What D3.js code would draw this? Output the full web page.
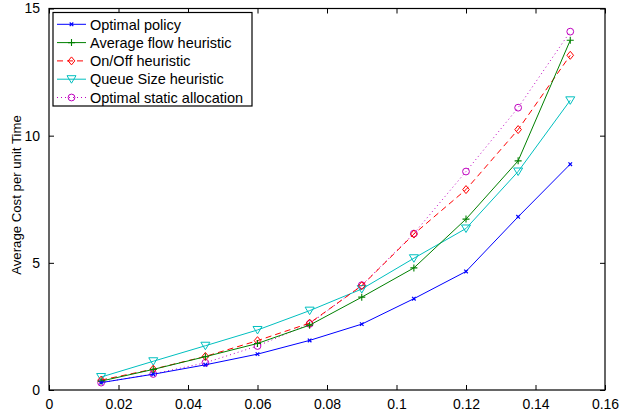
<!DOCTYPE html>
<html><head><meta charset="utf-8">
<script src="https://cdn.jsdelivr.net/npm/d3@7"></script>
<style>body{margin:0;background:#fff}svg{display:block}text{font-family:"Liberation Sans",Arial,sans-serif}</style>
</head><body><svg id="c" width="620" height="412"></svg>
<script>
const xValues = [0.015,0.03,0.045,0.06,0.075,0.09,0.105,0.12,0.135,0.15];
const optimalPolicy = [0.29,0.62,0.99,1.41,1.95,2.59,3.59,4.66,6.81,8.88];
const averageFlow = [0.35,0.81,1.31,1.83,2.55,3.65,4.80,6.72,9.01,13.75];
const onOff = [0.39,0.82,1.32,1.94,2.63,4.10,6.13,7.88,10.24,13.16];
const queueSize = [0.51,1.13,1.74,2.36,3.12,3.97,5.18,6.35,8.59,11.39];
const optimalStatic = [0.29,0.63,1.07,1.73,2.60,4.12,6.15,8.59,11.10,14.09];
const seriesNames = ["Optimal policy","Average flow heuristic","On/Off heuristic","Queue Size heuristic","Optimal static allocation"];
const xTicks = [0,0.02,0.04,0.06,0.08,0.1,0.12,0.14,0.16];
const yTicks = [0,5,10,15];
const yLabel = "Average Cost per unit Time";

const series = [
  {name:seriesNames[0], values:optimalPolicy, color:"#0000ff", dash:null, marker:"x"},
  {name:seriesNames[1], values:averageFlow, color:"#008000", dash:null, marker:"plus"},
  {name:seriesNames[2], values:onOff, color:"#ff0000", dash:"6,4", marker:"diamond"},
  {name:seriesNames[3], values:queueSize, color:"#00bfbf", dash:null, marker:"tri"},
  {name:seriesNames[4], values:optimalStatic, color:"#bf00bf", dash:"1,3", marker:"circle"}
];

const L=49, R=605, T=8.5, B=390;
const svg = d3.select("#c");
const x = d3.scaleLinear().domain([0,0.16]).range([L,R]);
const y = d3.scaleLinear().domain([0,15]).range([B,T]);
const fs = 14;

const fmt = d => d===0 ? "0" : String(+d.toFixed(2));
// axes
const gx = svg.append("g").attr("transform",`translate(0,${B})`)
  .call(d3.axisBottom(x).tickValues(xTicks).tickFormat(fmt).tickSizeInner(-5).tickSizeOuter(0).tickPadding(9));
const gxt = svg.append("g").attr("transform",`translate(0,${T})`)
  .call(d3.axisTop(x).tickValues(xTicks).tickFormat("").tickSizeInner(-5).tickSizeOuter(0));
const gy = svg.append("g").attr("transform",`translate(${L},0)`)
  .call(d3.axisLeft(y).tickValues(yTicks).tickFormat(d3.format("d")).tickSizeInner(-5).tickSizeOuter(0).tickPadding(9));
const gyr = svg.append("g").attr("transform",`translate(${R},0)`)
  .call(d3.axisRight(y).tickValues(yTicks).tickFormat("").tickSizeInner(-5).tickSizeOuter(0));
[gx,gxt,gy,gyr].forEach(g=>{
  g.select(".domain").remove();
  g.selectAll("line").attr("stroke","#000");
  g.selectAll("text").attr("fill","#000").style("font-size",fs+"px").style("font-family","'Liberation Sans',Arial,sans-serif");
});
svg.append("rect").attr("x",L).attr("y",T).attr("width",R-L).attr("height",B-T)
  .attr("fill","none").attr("stroke","#000").attr("stroke-width",1.2);

svg.append("text").attr("transform",`translate(21,195) rotate(-90)`)
  .attr("text-anchor","middle").style("font-size","13.2px").text(yLabel);

function drawMarker(g, type, cx, cy, color){
  const s=3.5;
  if(type==="x"){
    g.append("path").attr("d",`M${cx-1.8},${cy-1.8}L${cx+1.8},${cy+1.8}M${cx-1.8},${cy+1.8}L${cx+1.8},${cy-1.8}`).attr("stroke",color).attr("stroke-width",1.2).attr("fill","none");
  } else if(type==="plus"){
    g.append("path").attr("d",`M${cx-s},${cy}L${cx+s},${cy}M${cx},${cy-s}L${cx},${cy+s}`).attr("stroke",color).attr("stroke-width",1.1).attr("fill","none");
  } else if(type==="diamond"){
    g.append("path").attr("d",`M${cx},${cy-4}L${cx+3.3},${cy}L${cx},${cy+4}L${cx-3.3},${cy}Z`).attr("stroke",color).attr("fill","none");
  } else if(type==="tri"){
    g.append("path").attr("d",`M${cx-4.5},${cy-3.5}L${cx+4.5},${cy-3.5}L${cx},${cy+4}Z`).attr("stroke",color).attr("fill","none");
  } else if(type==="circle"){
    g.append("circle").attr("cx",cx).attr("cy",cy).attr("r",3.4).attr("stroke",color).attr("fill","none");
  }
}

const line = d3.line().x(d=>x(d[0])).y(d=>y(d[1]));
series.slice().reverse().forEach(s=>{
  const pts = xValues.map((xv,i)=>[xv,s.values[i]]);
  const g = svg.append("g");
  g.append("path").attr("d",line(pts)).attr("fill","none").attr("stroke",s.color)
    .attr("stroke-width",1).attr("stroke-dasharray",s.dash);
  pts.forEach(p=>drawMarker(g,s.marker,x(p[0]),y(p[1]),s.color));
});

// legend
const lg = svg.append("g");
lg.append("rect").attr("x",53).attr("y",12.5).attr("width",199).attr("height",93.5)
  .attr("fill","#fff").attr("stroke","#000").attr("stroke-width",1.2);
series.forEach((s,i)=>{
  const cy = 24.3 + i*18.3;
  lg.append("line").attr("x1",57).attr("x2",86).attr("y1",cy).attr("y2",cy)
    .attr("stroke",s.color).attr("stroke-dasharray",s.dash);
  drawMarker(lg,s.marker,71.5,cy,s.color);
  lg.append("text").attr("x",90).attr("y",cy).attr("dy","0.36em").style("font-size","14.5px").text(s.name);
});
</script></body></html>
